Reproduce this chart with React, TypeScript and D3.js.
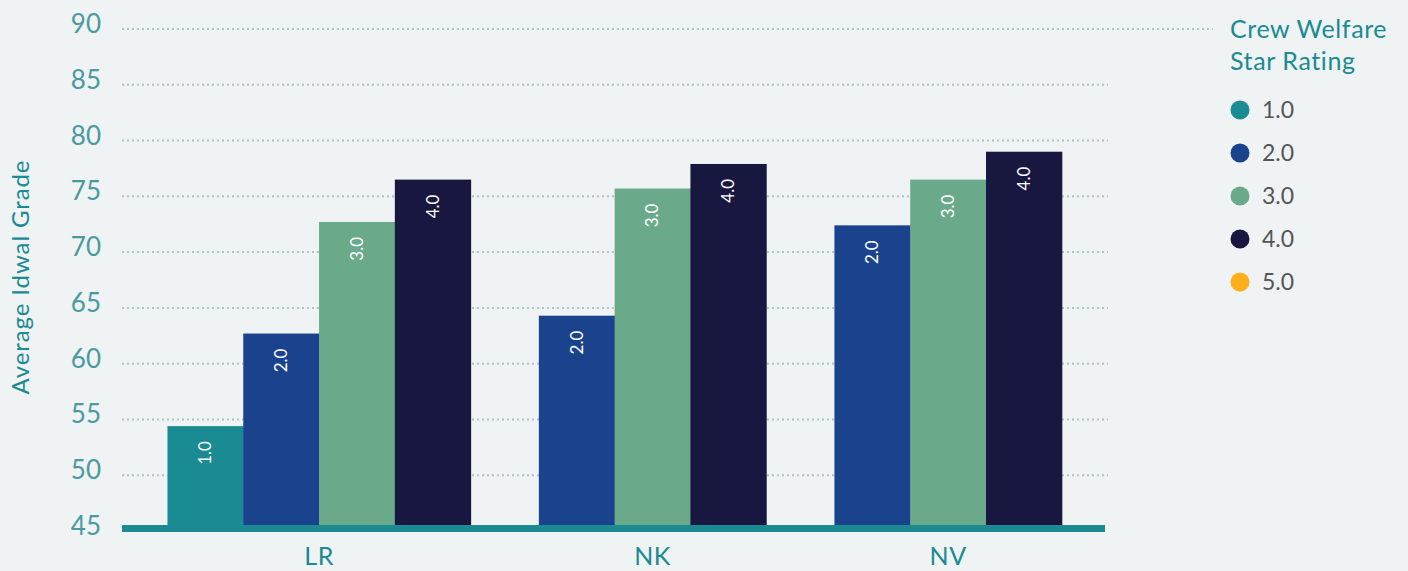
import React from "react";
import { scaleLinear, scaleOrdinal, range } from "d3";

// categories (flag states) and the ratings present in each
const categories = ["LR", "NK", "NV"];
const ratings = ["1.0", "2.0", "3.0", "4.0", "5.0"];
const ratingColors = ["#1a8a93", "#1b428d", "#6aaa8b", "#18173f", "#fdb01c"];

// average grade per category, one entry per present rating
const lrRatings = ["1.0", "2.0", "3.0", "4.0"];
const lrValues = [54.4, 62.7, 72.7, 76.5];
const nkRatings = ["2.0", "3.0", "4.0"];
const nkValues = [64.3, 75.7, 77.9];
const nvRatings = ["2.0", "3.0", "4.0"];
const nvValues = [72.4, 76.5, 79.0];

const yTicks = [45, 50, 55, 60, 65, 70, 75, 80, 85, 90];

const W = 1408;
const H = 571;
const left = 122;
const right = 1105;
const top = 29;
const bottom = 531;
const font = "Lato, 'Open Sans', sans-serif";

export default function App() {
  const groups = [
    { name: categories[0], keys: lrRatings, values: lrValues },
    { name: categories[1], keys: nkRatings, values: nkValues },
    { name: categories[2], keys: nvRatings, values: nvValues },
  ];

  // layout in "bar units": outer pads + gaps between groups
  const padL = 0.6;
  const gap = 0.9;
  const padR = 0.57;
  const totalBars = groups.reduce((s, g) => s + g.keys.length, 0);
  const totalUnits = padL + totalBars + gap * (groups.length - 1) + padR;

  const x = scaleLinear().domain([0, totalUnits]).range([left, right]);
  const y = scaleLinear().domain([45, 90]).range([bottom, top]);
  const color = scaleOrdinal<string, string>().domain(ratings).range(ratingColors);

  let cursor = padL;
  const layout = groups.map((g) => {
    const start = cursor;
    cursor += g.keys.length + gap;
    return { ...g, start };
  });

  return (
    <svg
      width={W}
      height={H}
      style={{ position: "absolute", left: 0, top: 0, background: "#eff3f4" }}
    >
      <rect width={W} height={H} fill="#eff3f4" />

      {/* gridlines + y ticks */}
      {yTicks.map((t) => (
        <g key={t}>
          {t !== 45 && (
            <line
              x1={left}
              x2={t === 90 ? 1213 : 1108}
              y1={y(t)}
              y2={y(t)}
              stroke="#a9c4ca"
              strokeWidth={2}
              strokeDasharray="2 3"
            />
          )}
          <text
            x={101}
            y={y(t) + 4}
            textAnchor="end"
            fontFamily={font}
            fontSize={26}
            fill="#4a9aa0"
          >
            {t}
          </text>
        </g>
      ))}

      <text
        transform={`translate(29,277) rotate(-90)`}
        textAnchor="middle"
        fontFamily={font}
        fontSize={24}
        letterSpacing={0.9}
        fill="#1a8a93"
      >
        Average Idwal Grade
      </text>

      {/* bars */}
      {layout.map((g) =>
        g.keys.map((k, i) => {
          const x0 = x(g.start + i);
          const x1 = x(g.start + i + 1);
          const cx = (x0 + x1) / 2;
          const yt = y(g.values[i]);
          return (
            <g key={g.name + k}>
              <rect
                x={x0}
                y={yt}
                width={x1 - x0 + 0.5}
                height={bottom - yt}
                fill={color(k)}
              />
              <text
                transform={`translate(${cx},${yt + 15}) rotate(-90)`}
                textAnchor="end"
                dy="0.35em"
                fontFamily={font}
                fontSize={17}
                fill="#ffffff"
              >
                {k}
              </text>
            </g>
          );
        })
      )}

      {/* baseline */}
      <line
        x1={left}
        x2={right}
        y1={528.5}
        y2={528.5}
        stroke="#1a8a93"
        strokeWidth={7}
      />

      {/* x labels */}
      {layout.map((g) => {
        const cx = (x(g.start) + x(g.start + g.keys.length)) / 2;
        return (
          <text
            key={g.name}
            x={cx}
            y={565}
            textAnchor="middle"
            fontFamily={font}
            fontSize={25}
            letterSpacing={0.5}
            fill="#1a8a93"
          >
            {g.name}
          </text>
        );
      })}

      {/* legend */}
      <text x={1230} y={38} fontFamily={font} fontSize={25} letterSpacing={0.6} fill="#1a8a93">
        Crew Welfare
      </text>
      <text x={1230} y={70} fontFamily={font} fontSize={25} letterSpacing={0.6} fill="#1a8a93">
        Star Rating
      </text>
      {range(ratings.length).map((i) => (
        <g key={ratings[i]} transform={`translate(1240,${110 + i * 43})`}>
          <circle r={9.5} fill={color(ratings[i])} />
          <text x={22} y={8} fontFamily={font} fontSize={23} fill="#555555">
            {ratings[i]}
          </text>
        </g>
      ))}
    </svg>
  );
}
